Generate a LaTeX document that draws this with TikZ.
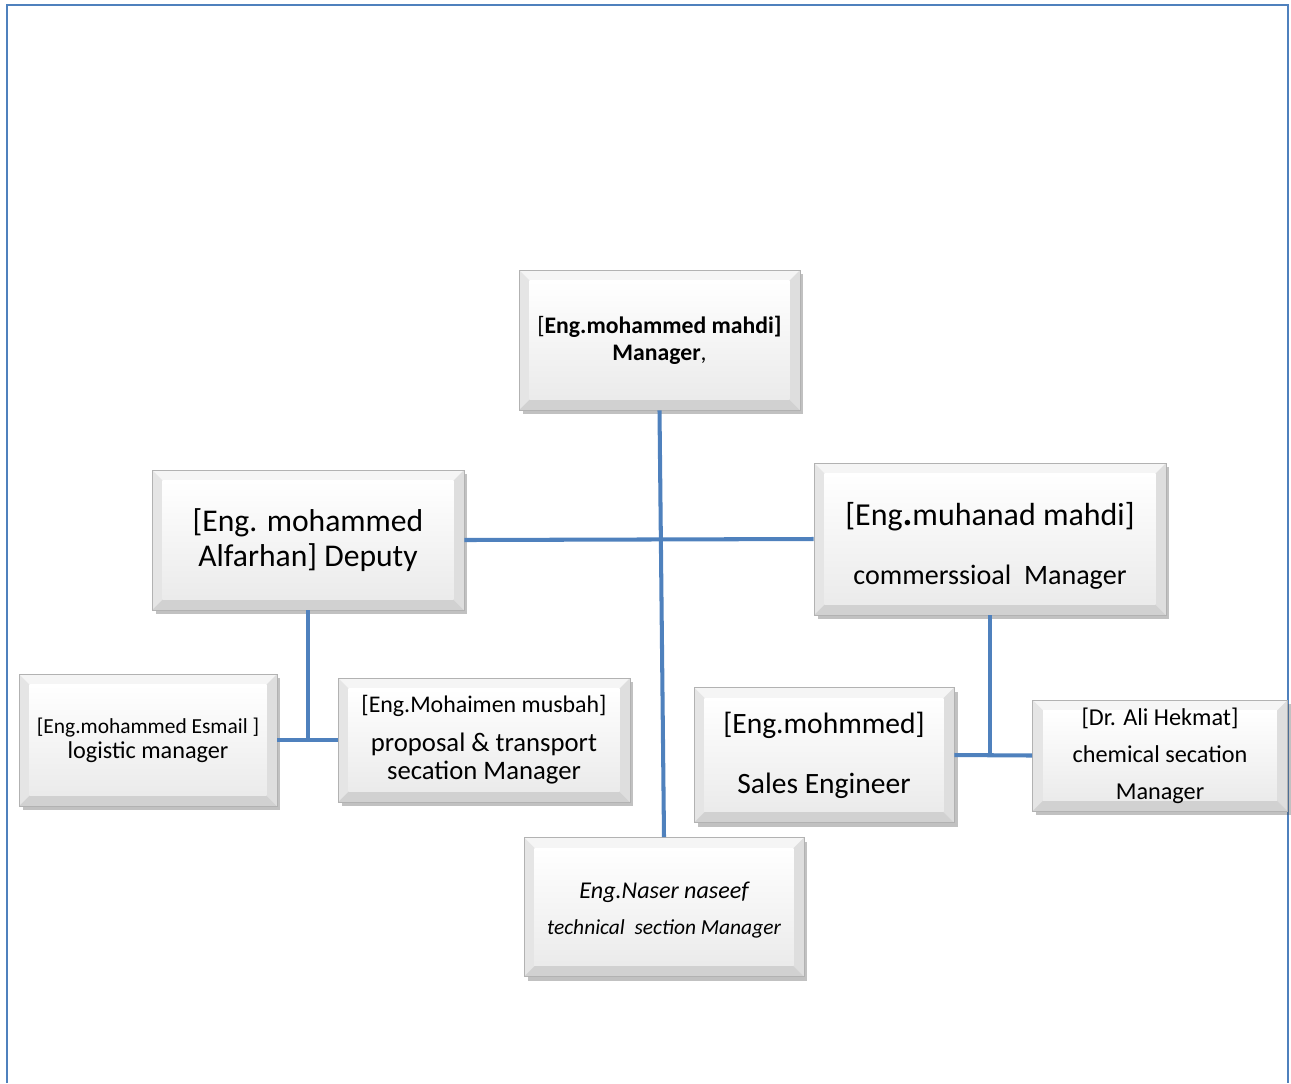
\documentclass[tikz,border=0pt]{standalone}
\usepackage{fontspec}
\setmainfont{Carlito}
\usepackage{tikz}
\usetikzlibrary{shadows}

\definecolor{orgblue}{HTML}{4F81BD}
\newcommand\bevw{6pt}
\newcommand\fsz[2]{\fontsize{#1}{#2}\selectfont}

\begin{document}
\begin{tikzpicture}[x=0.02cm,y=-0.02cm,
    link/.style={draw=orgblue,line width=2.3pt},
    frame/.style={draw=orgblue,line width=1.2pt},
    post/.style={draw=gray!60,line width=0.5pt,align=center,inner sep=0pt,
      drop shadow={shadow xshift=2pt,shadow yshift=-2.5pt,opacity=0.35,fill=black!70},
      fill=white,
      path picture={
        % bevel sides
        \fill[gray!8] (path picture bounding box.north west) -- (path picture bounding box.north east)
          -- ([shift={(-\bevw,-\bevw)}]path picture bounding box.north east) -- ([shift={(\bevw,-\bevw)}]path picture bounding box.north west) -- cycle;
        \fill[gray!20] (path picture bounding box.north west) -- (path picture bounding box.south west)
          -- ([shift={(\bevw,\bevw)}]path picture bounding box.south west) -- ([shift={(\bevw,-\bevw)}]path picture bounding box.north west) -- cycle;
        \fill[gray!26] (path picture bounding box.north east) -- (path picture bounding box.south east)
          -- ([shift={(-\bevw,\bevw)}]path picture bounding box.south east) -- ([shift={(-\bevw,-\bevw)}]path picture bounding box.north east) -- cycle;
        \fill[gray!36] (path picture bounding box.south west) -- (path picture bounding box.south east)
          -- ([shift={(-\bevw,\bevw)}]path picture bounding box.south east) -- ([shift={(\bevw,\bevw)}]path picture bounding box.south west) -- cycle;
        % face
        \shade[top color=white,bottom color=gray!16]
          ([shift={(\bevw,\bevw)}]path picture bounding box.south west) rectangle ([shift={(-\bevw,-\bevw)}]path picture bounding box.north east);
      }}]
  \useasboundingbox (0,0) rectangle (1291,1083);
  \draw[frame] (7,1083) -- (7,5) -- (1288,5) -- (1288,1083);

  \node[post,minimum width=5.62cm,minimum height=2.8cm,font=\fsz{13.5}{15.3}] (mgr) at (659.5,340)
    {[\textbf{Eng.mohammed mahdi]}\\ \textbf{Manager},};
  \node[post,minimum width=6.24cm,minimum height=2.8cm,font=\fsz{18}{20}] (dep) at (308,540)
    {[Eng. mohammed\\ Alfarhan] Deputy};
  \node[post,minimum width=7.04cm,minimum height=3.04cm,font=\fsz{18.2}{34}] (com) at (990,539)
    {\rule{0pt}{21pt}[Eng{\fsz{21}{34}\textbf{.}}muhanad mahdi]\\ {\fsz{16}{34}commerssioal\ \ Manager}};
  \node[post,minimum width=5.16cm,minimum height=2.64cm,font=\fsz{13.8}{14.2}] (log) at (148,740)
    {{\fsz{12.2}{14.2}[Eng.mohammed Esmail ]}\\ logistic manager};
  \node[post,minimum width=5.84cm,minimum height=2.48cm,font=\fsz{15.2}{16}] (prop) at (484,740)
    {{\fsz{13.6}{16}[Eng.Mohaimen musbah]}\\[6pt] proposal \& transport\\ secation Manager};
  \node[post,minimum width=5.2cm,minimum height=2.7cm,font=\fsz{16.8}{34}] (sales) at (824,755)
    {[Eng.mohmmed]\\ Sales Engineer};
  \node[post,minimum width=5.1cm,minimum height=2.22cm,font=\fsz{13.8}{21}] (chem) at (1160,755.5)
    {[Dr. Ali Hekmat]\\ chemical secation\\ Manager};
  \node[post,minimum width=5.6cm,minimum height=2.78cm,font=\fsz{13.7}{20.4}\itshape] (tech) at (664,907)
    {\rule{0pt}{13pt}Eng.Naser naseef\\ {\fsz{12.2}{20.4}technical\ \ section Manager}};

  \coordinate (depj) at (dep.south |- log.east);
  \coordinate (comj) at (com.south |- sales.east);

  \draw[link] (mgr.south) -- (tech.north);
  \draw[link] (dep.east) -- (com.west);
  \draw[link] (dep.south) -- (depj);
  \draw[link] (log.east) -- (prop.west);
  \draw[link] (com.south) -- (comj);
  \draw[link] (sales.east) -- (chem.west);
\end{tikzpicture}
\end{document}
